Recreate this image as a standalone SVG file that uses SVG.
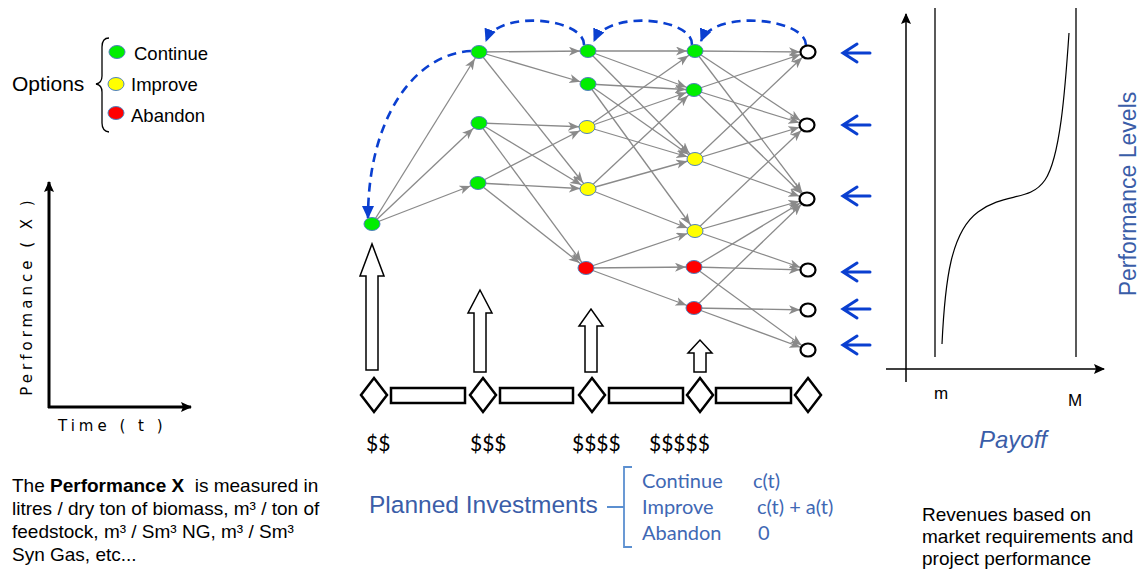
<svg xmlns="http://www.w3.org/2000/svg" width="1141" height="575" viewBox="0 0 1141 575">
<style>
.sans{font-family:"Liberation Sans",Arial,sans-serif}
.cal{font-family:Lato,"Open Sans",sans-serif}
.ver{font-family:"DejaVu Sans",Verdana,sans-serif;letter-spacing:4px}
.edge{stroke:#8a8a8a;stroke-width:1.3;fill:none;marker-end:url(#ga)}
.dash{stroke:#0a3fd0;stroke-width:2.6;fill:none;stroke-dasharray:9 6;marker-end:url(#ba)}
.g{fill:#00ee00;stroke:#4f81bd;stroke-width:1}
.y{fill:#ffff00;stroke:#4f81bd;stroke-width:1}
.r{fill:#ff0000;stroke:#4f81bd;stroke-width:1}
.t{fill:#fff;stroke:#000;stroke-width:2.2}
.blk{fill:#fff;stroke:#000;stroke-width:1.5}
.tl{fill:#fff;stroke:#000;stroke-width:2.5}
.barr{stroke:#0a3fd0;stroke-width:3;fill:none;stroke-linecap:round}
.blue{fill:#3a5da8}
.lblue{fill:#3f68b4}
</style>
<defs>
<marker id="ga" markerUnits="userSpaceOnUse" markerWidth="24" markerHeight="12" refX="19" refY="4.5" orient="auto">
<path d="M0,0 L11,4.5 L0,9 L3,4.5 z" fill="#8a8a8a"/>
</marker>
<marker id="ba" markerUnits="userSpaceOnUse" markerWidth="16" markerHeight="14" refX="12" refY="6" orient="auto">
<path d="M0,0 L13,6 L0,12 z" fill="#0a3fd0"/>
</marker>
<marker id="ka" markerUnits="userSpaceOnUse" markerWidth="14" markerHeight="14" refX="10" refY="5" orient="auto">
<path d="M0,0 L11,5 L0,10 L2,5 z" fill="#000"/>
</marker>
</defs>
<rect width="1141" height="575" fill="#fff"/>

<!-- Legend -->
<g id="legend">
<text x="12" y="91" class="sans" font-size="21">Options</text>
<path d="M109,38 Q102,38 102,47 L102,76 Q102,83 96,84 Q102,85 102,92 L102,123 Q102,131 109,132" fill="none" stroke="#000" stroke-width="1.3"/>
<ellipse cx="117" cy="52" rx="8" ry="6.5" class="g"/>
<ellipse cx="116" cy="84" rx="8" ry="6.5" class="y"/>
<ellipse cx="116" cy="113" rx="8" ry="6.5" class="r"/>
<text x="134" y="60" class="sans" font-size="18.5">Continue</text>
<text x="131" y="91" class="sans" font-size="18.5">Improve</text>
<text x="131" y="122" class="sans" font-size="18.5">Abandon</text>
</g>

<!-- Left axes -->
<g id="perf-axes">
<line x1="49" y1="408" x2="49" y2="182" stroke="#000" stroke-width="3" marker-end="url(#ka)"/>
<line x1="48" y1="407" x2="191" y2="407" stroke="#000" stroke-width="3" marker-end="url(#ka)"/>
<text transform="translate(32,296) rotate(-90)" text-anchor="middle" class="ver" font-size="15">Performance ( X )</text>
<text x="58" y="431" class="ver" font-size="15">Time ( t )</text>
</g>

<g id="perf-note" class="sans" font-size="19">
<text x="12" y="492" xml:space="preserve">The <tspan font-weight="bold">Performance X</tspan>  is measured in</text>
<text x="12" y="515">litres / dry ton of biomass, m³ / ton of</text>
<text x="12" y="538">feedstock, m³ / Sm³ NG, m³ / Sm³</text>
<text x="12" y="561">Syn Gas, etc...</text>
</g>

<!-- Connectors -->
<g id="connectors">
<line class="edge" x1="372" y1="224" x2="479" y2="52"/>
<line class="edge" x1="372" y1="224" x2="479" y2="123"/>
<line class="edge" x1="372" y1="224" x2="478" y2="183"/>
<line class="edge" x1="479" y1="52" x2="588" y2="51"/>
<line class="edge" x1="479" y1="52" x2="588" y2="84"/>
<line class="edge" x1="479" y1="52" x2="588" y2="189"/>
<line class="edge" x1="479" y1="123" x2="587" y2="127"/>
<line class="edge" x1="479" y1="123" x2="588" y2="189"/>
<line class="edge" x1="479" y1="123" x2="586" y2="268"/>
<line class="edge" x1="478" y1="183" x2="587" y2="127"/>
<line class="edge" x1="478" y1="183" x2="588" y2="189"/>
<line class="edge" x1="478" y1="183" x2="586" y2="268"/>
<line class="edge" x1="588" y1="51" x2="695" y2="51"/>
<line class="edge" x1="588" y1="51" x2="694" y2="90"/>
<line class="edge" x1="588" y1="51" x2="695" y2="159"/>
<line class="edge" x1="588" y1="84" x2="694" y2="90"/>
<line class="edge" x1="588" y1="84" x2="695" y2="159"/>
<line class="edge" x1="588" y1="84" x2="695" y2="231"/>
<line class="edge" x1="587" y1="127" x2="695" y2="51"/>
<line class="edge" x1="587" y1="127" x2="694" y2="90"/>
<line class="edge" x1="587" y1="127" x2="695" y2="159"/>
<line class="edge" x1="588" y1="189" x2="694" y2="90"/>
<line class="edge" x1="588" y1="189" x2="695" y2="159"/>
<line class="edge" x1="588" y1="189" x2="695" y2="231"/>
<line class="edge" x1="586" y1="268" x2="695" y2="231"/>
<line class="edge" x1="586" y1="268" x2="694" y2="267"/>
<line class="edge" x1="586" y1="268" x2="694" y2="308"/>
<line class="edge" x1="695" y1="51" x2="808" y2="52"/>
<line class="edge" x1="695" y1="51" x2="807" y2="125"/>
<line class="edge" x1="695" y1="51" x2="807" y2="199"/>
<line class="edge" x1="694" y1="90" x2="808" y2="52"/>
<line class="edge" x1="694" y1="90" x2="807" y2="125"/>
<line class="edge" x1="694" y1="90" x2="807" y2="199"/>
<line class="edge" x1="695" y1="159" x2="808" y2="52"/>
<line class="edge" x1="695" y1="159" x2="807" y2="125"/>
<line class="edge" x1="695" y1="159" x2="807" y2="199"/>
<line class="edge" x1="695" y1="231" x2="807" y2="125"/>
<line class="edge" x1="695" y1="231" x2="807" y2="199"/>
<line class="edge" x1="695" y1="231" x2="808" y2="270"/>
<line class="edge" x1="694" y1="267" x2="807" y2="199"/>
<line class="edge" x1="694" y1="267" x2="808" y2="270"/>
<line class="edge" x1="694" y1="267" x2="808" y2="350"/>
<line class="edge" x1="694" y1="308" x2="807" y2="199"/>
<line class="edge" x1="694" y1="308" x2="808" y2="310"/>
<line class="edge" x1="694" y1="308" x2="808" y2="350"/>
<path class="dash" d="M806,45 C806,18 714,9 701,41"/>
<path class="dash" d="M692,45 C694,18 608,9 594,41"/>
<path class="dash" d="M584,45 C585,18 498,9 486,41"/>
<path class="dash" d="M471,51 C413,54 368,120 368,218"/>
</g>

<!-- Nodes -->
<g id="n-a0"><ellipse cx="372" cy="224" rx="8" ry="6.5" class="g"/></g>
<g id="n-b0"><ellipse cx="479" cy="52" rx="8" ry="6.5" class="g"/></g>
<g id="n-b1"><ellipse cx="479" cy="123" rx="8" ry="6.5" class="g"/></g>
<g id="n-b2"><ellipse cx="478" cy="183" rx="8" ry="6.5" class="g"/></g>
<g id="n-c0"><ellipse cx="588" cy="51" rx="8" ry="6.5" class="g"/></g>
<g id="n-c1"><ellipse cx="588" cy="84" rx="8" ry="6.5" class="g"/></g>
<g id="n-c2"><ellipse cx="587" cy="127" rx="8" ry="6.5" class="y"/></g>
<g id="n-c3"><ellipse cx="588" cy="189" rx="8" ry="6.5" class="y"/></g>
<g id="n-c4"><ellipse cx="586" cy="268" rx="8" ry="6.5" class="r"/></g>
<g id="n-d0"><ellipse cx="695" cy="51" rx="8" ry="6.5" class="g"/></g>
<g id="n-d1"><ellipse cx="694" cy="90" rx="8" ry="6.5" class="g"/></g>
<g id="n-d2"><ellipse cx="695" cy="159" rx="8" ry="6.5" class="y"/></g>
<g id="n-d3"><ellipse cx="695" cy="231" rx="8" ry="6.5" class="y"/></g>
<g id="n-d4"><ellipse cx="694" cy="267" rx="8" ry="6.5" class="r"/></g>
<g id="n-d5"><ellipse cx="694" cy="308" rx="8" ry="6.5" class="r"/></g>
<g id="n-e0"><ellipse cx="808" cy="52" rx="7.5" ry="6.5" class="t"/></g>
<g id="n-e1"><ellipse cx="807" cy="125" rx="7.5" ry="6.5" class="t"/></g>
<g id="n-e2"><ellipse cx="807" cy="199" rx="7.5" ry="6.5" class="t"/></g>
<g id="n-e3"><ellipse cx="808" cy="270" rx="7.5" ry="6.5" class="t"/></g>
<g id="n-e4"><ellipse cx="808" cy="310" rx="7.5" ry="6.5" class="t"/></g>
<g id="n-e5"><ellipse cx="808" cy="350" rx="7.5" ry="6.5" class="t"/></g>

<!-- Blue level arrows -->
<g id="level-arrows">
<path class="barr" d="M870,53 L843,53 M857,44 L843,53 L857,62"/>
<path class="barr" d="M870,125 L843,125 M857,116 L843,125 L857,134"/>
<path class="barr" d="M870,196 L843,196 M857,187 L843,196 L857,205"/>
<path class="barr" d="M870,272 L843,272 M857,263 L843,272 L857,281"/>
<path class="barr" d="M870,309 L843,309 M857,300 L843,309 L857,318"/>
<path class="barr" d="M870,345 L843,345 M857,336 L843,345 L857,354"/>
</g>

<!-- Investment block arrows -->
<g id="inv-arrows">
<polygon class="blk" points="366,370 378,370 378,276 384,276 372,244 360,276 366,276"/>
<polygon class="blk" points="474,372 486,372 486,313 492,313 480,290 468,313 474,313"/>
<polygon class="blk" points="585,372 597,372 597,326 603,326 591,309 579,326 585,326"/>
<polygon class="blk" points="694,372 706,372 706,353 712,353 700,340 688,353 694,353"/>
</g>

<!-- Timeline -->
<g id="timeline">
<polygon class="tl" points="374,378 387,395 374,412 361,395"/>
<rect class="tl" x="391" y="388" width="74" height="15"/>
<polygon class="tl" points="483,378 496,395 483,412 470,395"/>
<rect class="tl" x="500" y="388" width="73" height="15"/>
<polygon class="tl" points="592,378 605,395 592,412 579,395"/>
<rect class="tl" x="609" y="388" width="74" height="15"/>
<polygon class="tl" points="700,378 713,395 700,412 687,395"/>
<rect class="tl" x="716" y="388" width="75" height="15"/>
<polygon class="tl" points="808,378 821,395 808,412 795,395"/>
</g>

<g id="costs" class="cal" font-size="21">
<text x="366" y="451">$$</text>
<text x="470" y="451">$$$</text>
<text x="572" y="451">$$$$</text>
<text x="649" y="451">$$$$$</text>
</g>

<g id="planned">
<text x="369" y="513" class="sans blue" font-size="24.5">Planned Investments</text>
<path d="M607,507 L624,507 M632,467 L624,467 L624,547 L632,547" fill="none" stroke="#5b8fd0" stroke-width="1.8"/>
<g class="cal lblue" font-size="20">
<text x="642" y="488">Continue</text><text x="753" y="488">c(t)</text>
<text x="642" y="514">Improve</text><text x="757" y="514">c(t) + a(t)</text>
<text x="642" y="540">Abandon</text><text x="758" y="540">0</text>
</g>
</g>

<!-- Payoff chart -->
<g id="payoff">
<line x1="906" y1="382" x2="906" y2="14" stroke="#000" stroke-width="1.5" marker-end="url(#ka)"/>
<line x1="886" y1="369" x2="1104" y2="369" stroke="#000" stroke-width="1.5" marker-end="url(#ka)"/>
<line x1="935" y1="8" x2="935" y2="357" stroke="#000" stroke-width="1.3"/>
<line x1="1076" y1="8" x2="1076" y2="357" stroke="#000" stroke-width="1.3"/>
<path d="M942,344 C945,280 951,232 978,212 S1030,202 1045,180 S1065,92 1069,33" fill="none" stroke="#000" stroke-width="1.2"/>
<text x="934" y="399" class="sans" font-size="17">m</text>
<text x="1068" y="406" class="sans" font-size="17">M</text>
<text x="1013" y="448" text-anchor="middle" class="sans blue" font-size="24" font-style="italic">Payoff</text>
<text transform="translate(1136,194) rotate(-90)" text-anchor="middle" class="sans blue" font-size="23">Performance Levels</text>
</g>

<g id="revenues" class="sans" font-size="19">
<text x="922" y="521">Revenues based on</text>
<text x="922" y="543">market requirements and</text>
<text x="922" y="565">project performance</text>
</g>
</svg>
